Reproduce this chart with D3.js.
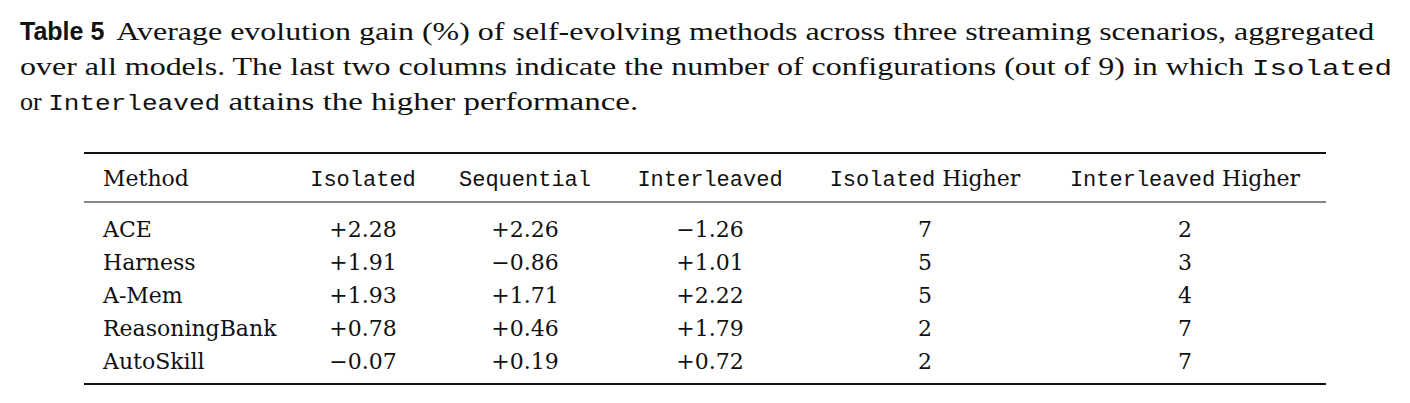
<!DOCTYPE html>
<html><head><meta charset="utf-8">
<script src="https://cdn.jsdelivr.net/npm/d3@7"></script>
<style>body{margin:0;background:#fff}</style></head>
<body><svg id="c" width="1410" height="403"></svg>
<script>
const methods = ["ACE","Harness","A-Mem","ReasoningBank","AutoSkill"];
const isolated = [2.28,1.91,1.93,0.78,-0.07];
const sequential = [2.26,-0.86,1.71,0.46,0.19];
const interleaved = [-1.26,1.01,2.22,1.79,0.72];
const isoHigher = [7,5,5,2,2];
const interHigher = [2,3,4,7,7];
const headers = [["Method",null],["Isolated",""],["Sequential",""],["Interleaved",""],["Isolated"," Higher"],["Interleaved"," Higher"]];

const svg = d3.select("#c");
const serif = "'Liberation Serif','DejaVu Serif',serif";
const tserif = "'DejaVu Serif','Liberation Serif',serif";
const mono = "'Liberation Mono','DejaVu Sans Mono',monospace";
const fmt = v => (v < 0 ? "\u2212" : "+") + Math.abs(v).toFixed(2);

// caption
const cap = svg.append("g").attr("font-family", serif).attr("font-size", 26).attr("fill", "#111");
const l1 = cap.append("text").attr("x", 20).attr("y", 40);
l1.append("tspan").attr("font-family","'Liberation Sans',Arial,sans-serif").attr("font-weight","bold").attr("font-size",25).text("Table 5");
l1.append("tspan").attr("dx", 12).text("Average evolution gain (%) of self-evolving methods across three streaming scenarios, aggregated")
  .attr("textLength", 1258).attr("lengthAdjust","spacingAndGlyphs");
const l2 = cap.append("text").attr("x", 20).attr("y", 75);
l2.append("tspan").attr("textLength", 1232).attr("lengthAdjust","spacingAndGlyphs")
  .text("over all models. The last two columns indicate the number of configurations (out of 9) in which ");
l2.append("tspan").attr("font-family", mono).attr("font-size", 22).attr("textLength", 140).attr("lengthAdjust","spacingAndGlyphs").text("Isolated");
const l3 = cap.append("text").attr("x", 20).attr("y", 110);
l3.append("tspan").text("or ");
l3.append("tspan").attr("font-family", mono).attr("font-size", 22).attr("textLength", 172).attr("lengthAdjust","spacingAndGlyphs").text("Interleaved");
l3.append("tspan").attr("textLength", 418).attr("lengthAdjust","spacingAndGlyphs").text(" attains the higher performance.");

// table
const colX = [103, 363, 525, 710, 925, 1185];
const x0 = 84, x1 = 1326;
const y = d3.scaleBand().domain(methods).range([212, 378]).paddingInner(0);
const tg = svg.append("g").attr("font-family", tserif).attr("font-size", 22).attr("fill", "#111");
tg.append("line").attr("x1",x0).attr("x2",x1).attr("y1",153).attr("y2",153).attr("stroke","#111").attr("stroke-width",2.2);
tg.append("line").attr("x1",x0).attr("x2",x1).attr("y1",202).attr("y2",202).attr("stroke","#111").attr("stroke-width",1.2);
tg.append("line").attr("x1",x0).attr("x2",x1).attr("y1",384).attr("y2",384).attr("stroke","#111").attr("stroke-width",2.2);

headers.forEach((h, i) => {
  const t = tg.append("text").attr("x", colX[i]).attr("y", 186).attr("text-anchor", i === 0 ? "start" : "middle");
  if (h[1] === null) t.text(h[0]);
  else { t.append("tspan").attr("font-family", mono).attr("font-size", 22).text(h[0]); if (h[1]) t.append("tspan").text(h[1]); }
});
const cols = [methods, isolated.map(fmt), sequential.map(fmt), interleaved.map(fmt), isoHigher, interHigher];
methods.forEach((m, r) => {
  const by = y(m) + y.bandwidth() / 2 + 8;
  cols.forEach((c, i) => {
    tg.append("text").attr("x", colX[i]).attr("y", by).attr("text-anchor", i === 0 ? "start" : "middle").text(c[r]);
  });
});
</script></body></html>
